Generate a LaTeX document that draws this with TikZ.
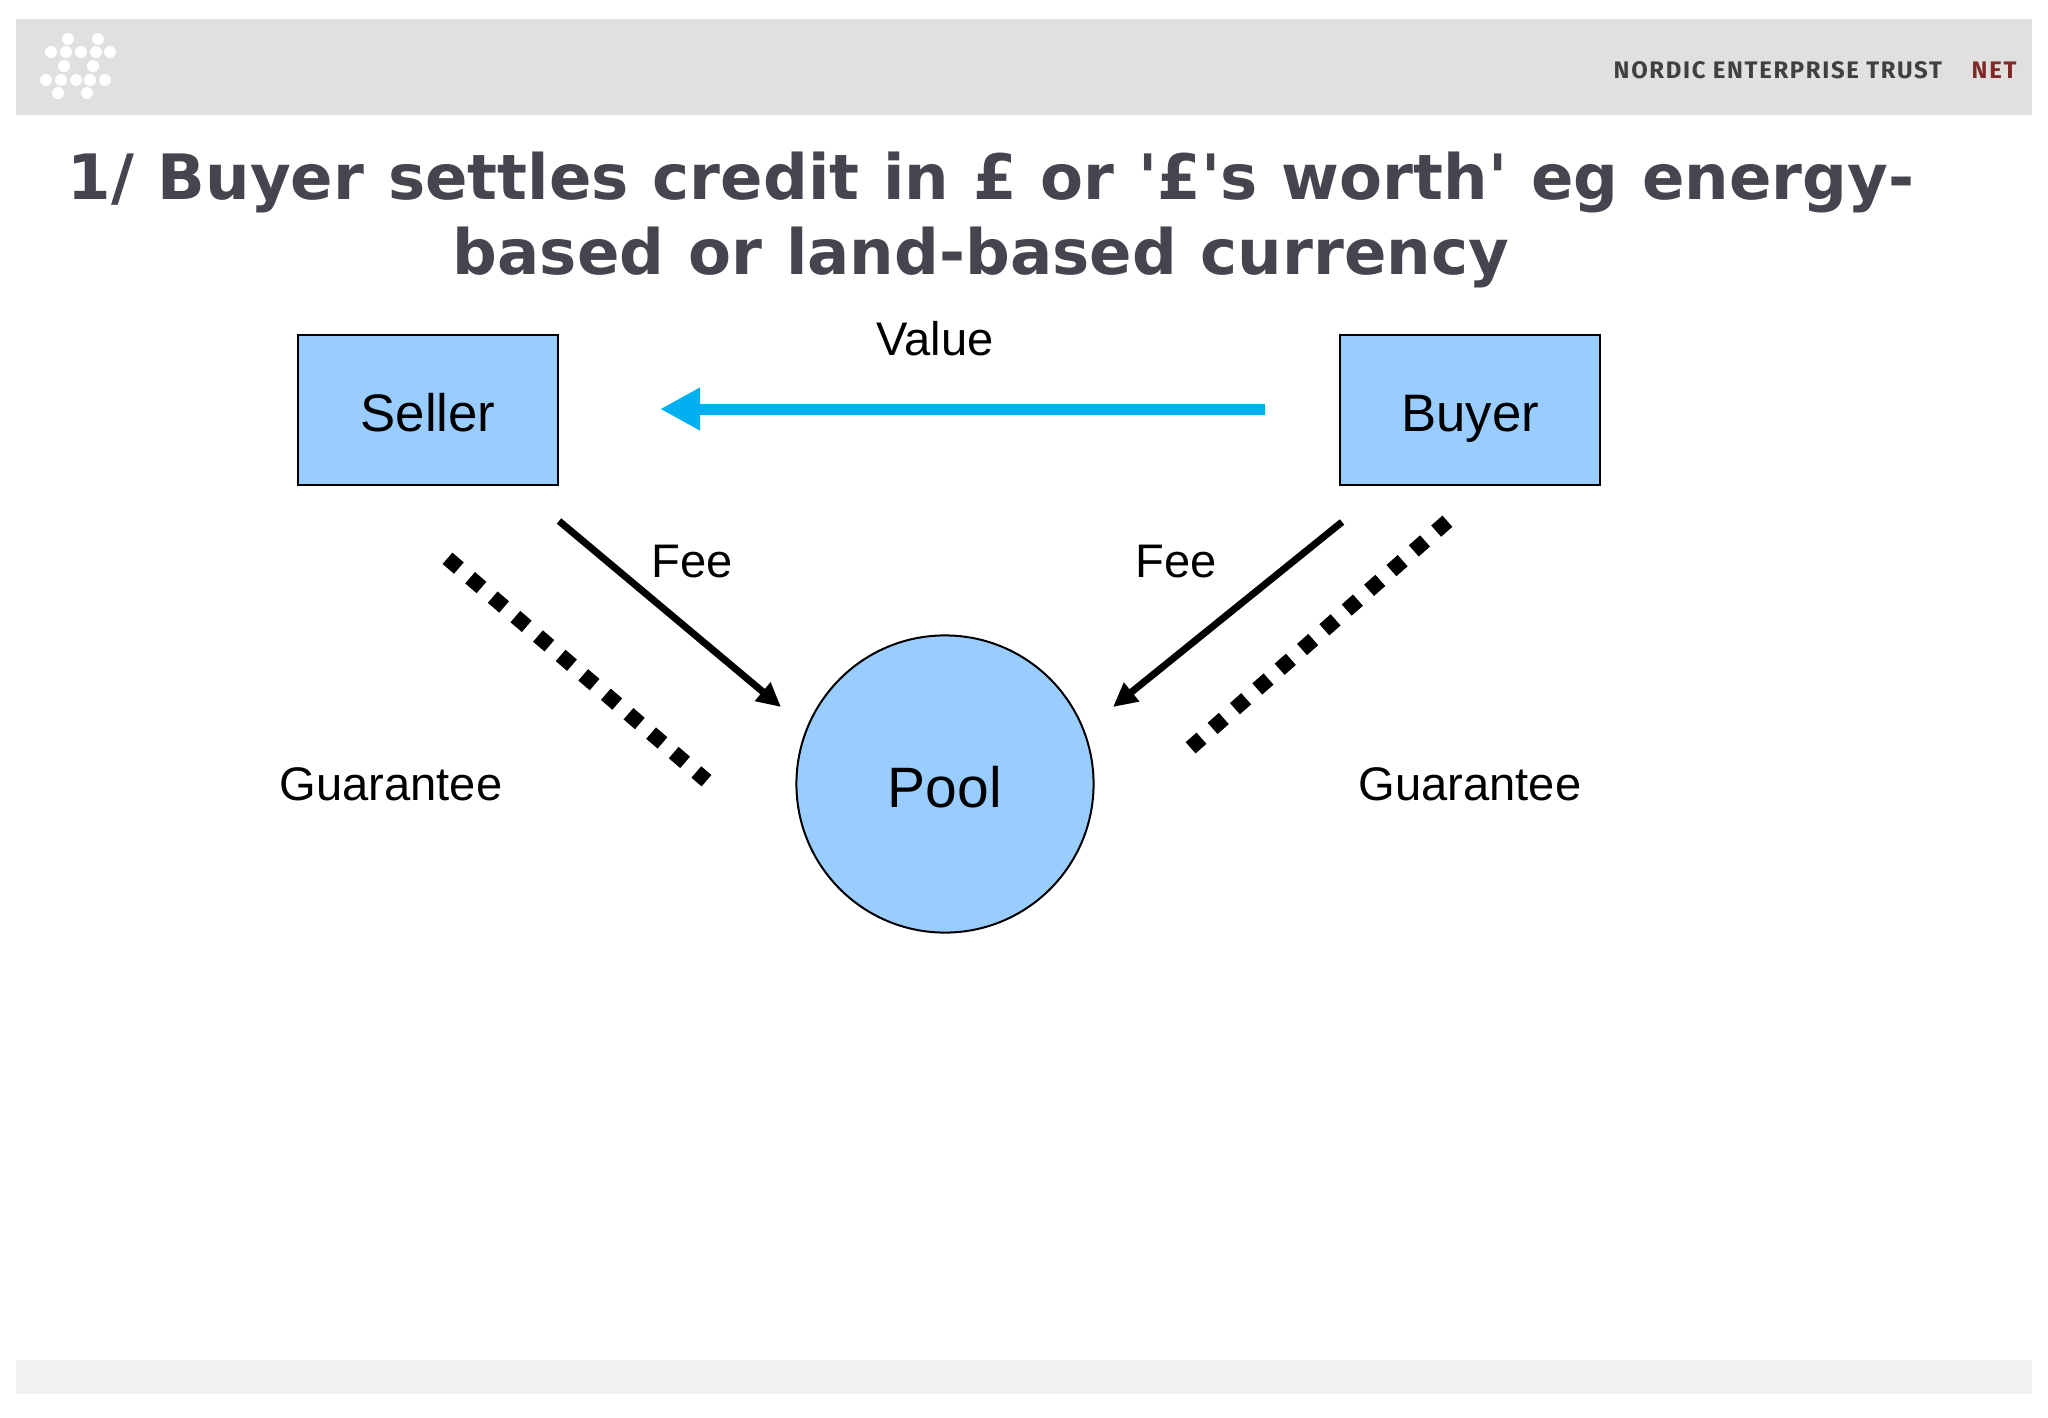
\documentclass[tikz,border=0pt]{standalone}
\usepackage{fontspec}
\setmainfont{Liberation Sans}
\newfontfamily\titlefont[WordSpace=1.1]{DejaVu Sans}
\newfontfamily\bannerfont[LetterSpace=7]{Fira Sans}
\usetikzlibrary{arrows.meta}
\definecolor{bannergray}{HTML}{E0E0DE}
\definecolor{footgray}{HTML}{F3F1EF}
\definecolor{titleink}{HTML}{45454F}
\definecolor{partyblue}{HTML}{99CCFF}
\definecolor{valueblue}{HTML}{00B0F0}
\definecolor{netred}{HTML}{7F2A28}
\tikzset{
  party/.style={
      draw=black,
      fill=partyblue,
      line width=0.2mm,
      inner sep=0pt
      },
  label text/.style={
      font=\fontsize{13.4}{16}\selectfont,
      inner sep=0pt
      },
  box text/.style={
      font=\fontsize{15}{18}\selectfont,
      text height=14pt,
      text depth=1.8pt
      },
  fee arrow/.style={
      line width=0.7mm,
      -{Triangle[length=2.4mm,width=2.3mm]}
      },
  guarantee line/.style={
      line width=1.5mm,
      dash pattern=on 1.5mm off 1.48mm
      }
}

\begin{document}
\begin{tikzpicture}[x=0.01cm,y=-0.01cm]
\useasboundingbox (0,0) rectangle (2048,1418);
\path [fill=bannergray] (16,19) rectangle (2032,115);
\path [fill=footgray] (16,1360) rectangle (2032,1394);
% logo dots
\foreach \x/\y in {68/39,98/39,51/52,66/52,81/52,96/52,110/52,64/66,93/66,46/80,61/80,76/80,90/80,105/80,58/93,87/93}
  \fill [white] (\x,\y) circle (6);
\node (banner) [anchor=base west, inner sep=0pt, text=black!75, font=\bannerfont\fontsize{6.8}{9}\selectfont\bfseries] at (1613,78) {NORDIC ENTERPRISE TRUST};
\node (net) [anchor=base west, inner sep=0pt, text=netred, font=\bannerfont\fontsize{6.8}{9}\selectfont\bfseries] at (1971,78) {NET};
\node (title) [inner sep=0pt, align=center, text=titleink, font=\titlefont\fontsize{17.8}{21.3}\selectfont\bfseries] at (991,220) {1/ Buyer settles credit in £ or '£'s worth' eg energy-\\based or land-based currency\hspace*{0.2cm}};
% parties
\node (seller) [party, box text, minimum width=2.6cm, minimum height=1.49cm] at (428,410) {Seller};
\node (buyer) [party, box text, minimum width=2.6cm, minimum height=1.49cm] at (1470,410) {Buyer};
\node (pool) [party, circle, minimum size=2.97cm, font=\fontsize{16.2}{19}\selectfont, text height=14pt, text depth=0.7pt] at (945,784) {Pool};
% labels
\node (value) [label text] at (935,339) {Value};
\node (feeleft) [label text] at (692,562) {Fee};
\node (feeright) [label text] at (1176,562) {Fee};
\node (guarleft) [label text] at (391,784) {Guarantee};
\node (guarright) [label text] at (1470,784) {Guarantee};
% free ends
\coordinate (valuestart) at (1265,409);
\coordinate (valueend) at (660,409);
\coordinate (feeleftstart) at (559,521);
\coordinate (feeleftend) at (781,707);
\coordinate (feerightstart) at (1342,522);
\coordinate (feerightend) at (1113,707);
\coordinate (guarleftstart) at (447.5,558.3);
\coordinate (guarleftend) at (706.5,780.7);
\coordinate (guarrightstart) at (1447.4,521.2);
\coordinate (guarrightend) at (1190.6,747.8);
\draw [valueblue, line width=1.1mm, -{Triangle[length=4mm,width=4mm]}] (valuestart) -- (valueend);
\draw [fee arrow] (feeleftstart) -- (feeleftend);
\draw [fee arrow] (feerightstart) -- (feerightend);
\draw [guarantee line] (guarleftstart) -- (guarleftend);
\draw [guarantee line] (guarrightstart) -- (guarrightend);
\end{tikzpicture}
\end{document}
